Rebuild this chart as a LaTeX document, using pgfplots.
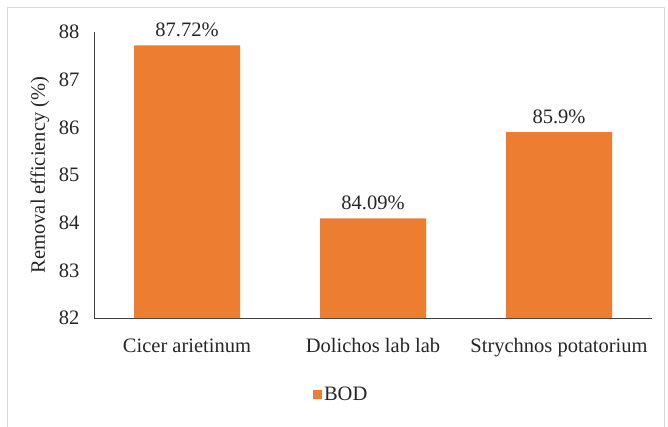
\documentclass[border=0pt]{standalone}
\usepackage{fontspec}
\setmainfont{Liberation Serif}
\usepackage{pgfplots}
\pgfplotsset{compat=1.18}
\definecolor{barorange}{HTML}{ED7D31}
\definecolor{txt}{HTML}{262626}
\begin{document}
\begin{tikzpicture}
\useasboundingbox (0,0) rectangle (668pt,426pt);
\draw[black!15, line width=1pt] (7pt,-5pt) rectangle (664pt,418pt);
\begin{axis}[
    at={(94pt,108pt)}, anchor=south west,
    scale only axis, width=558pt, height=286pt,
    /pgf/number format/assume math mode=true,
    font=\fontsize{20.5}{24}\selectfont,
    ybar, bar width=106pt,
    xmin=-0.5, xmax=2.5, ymin=82, ymax=88,
    xtick={0,1,2},
    xticklabels={Cicer arietinum, Dolichos lab lab, Strychnos potatorium},
    ytick={82,83,...,88},
    major tick length=0pt,
    axis x line*=bottom, axis y line*=left,
    axis line style={black!75, line width=1pt},
    tick label style={text=txt},
    yticklabel style={xshift=-11pt},
    xticklabel style={yshift=-17pt},
    ylabel={Removal efficiency (\%)},
    ylabel style={at={(axis description cs:-0.097,0.5)}, anchor=center, text=txt},
    nodes near coords={\pgfmathprintnumber[fixed,precision=2]{\pgfplotspointmeta}\%},
    every node near coord/.append style={text=txt, yshift=5pt},
    legend style={at={(axis description cs:0.443,-0.269)}, anchor=center, draw=none, text=txt,
        legend cell align=left},
    legend image code/.code={\fill[barorange] (0pt,-4.5pt) rectangle (9pt,4.5pt);},
]
\addplot[fill=barorange, draw=none] coordinates {(0,87.72) (1,84.09) (2,85.9)};
\addlegendentry{BOD}
\end{axis}
\end{tikzpicture}
\end{document}
